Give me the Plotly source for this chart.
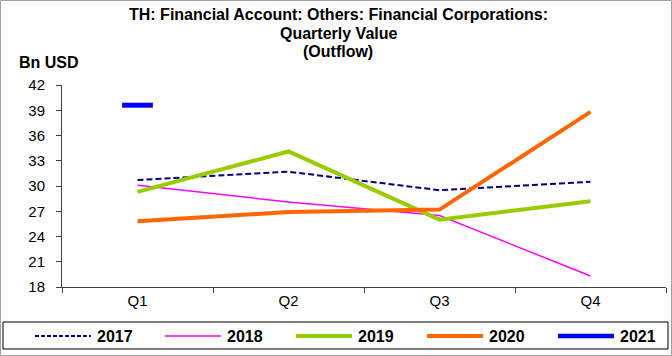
import plotly.graph_objects as go

# Quarterly outflow values, Bn USD
quarters = ["Q1", "Q2", "Q3", "Q4"]
years = ["2017", "2018", "2019", "2020", "2021"]
v2017 = [30.7, 31.7, 29.5, 30.5]
v2018 = [30.1, 28.1, 26.5, 19.3]
v2019 = [29.3, 34.1, 26.0, 28.2]
v2020 = [25.8, 26.9, 27.2, 38.8]
v2021 = [39.6, None, None, None]

title_lines = [
    "TH: Financial Account: Others: Financial Corporations:",
    "Quarterly Value",
    "(Outflow)",
]

values = {"2017": v2017, "2018": v2018, "2019": v2019, "2020": v2020, "2021": v2021}
styles = {
    "2017": dict(color="#000080", width=2, dash="6px,3px"),
    "2018": dict(color="#FF00FF", width=1.5, dash="solid"),
    "2019": dict(color="#99CC00", width=4, dash="solid"),
    "2020": dict(color="#FF6600", width=4, dash="solid"),
    "2021": dict(color="#0000FF", width=5, dash="solid"),
}

W, H = 672, 356
L, R, T, B = 62, 6, 85, 69
pw, ph = W - L - R, H - T - B


def px(x):
    return (x - L) / pw


def py(y):
    return (H - B - y) / ph


fig = go.Figure()
for yr in years:
    st = styles[yr]
    vals = values[yr]
    n_pts = sum(v is not None for v in vals)
    if n_pts > 1:
        fig.add_trace(go.Scatter(
            x=quarters, y=vals, mode="lines", name=yr,
            line=dict(color=st["color"], width=st["width"], dash=st["dash"]),
            showlegend=False,
        ))
    else:
        # a single observation is shown as a short horizontal dash
        fig.add_trace(go.Scatter(
            x=quarters, y=vals, mode="markers", name=yr,
            marker=dict(symbol="line-ew", size=22,
                        line=dict(color=st["color"], width=st["width"])),
            showlegend=False,
        ))

shapes = []
annotations = []

# outer frame
shapes.append(dict(type="rect", xref="paper", yref="paper",
                   x0=px(0.5), x1=px(W - 0.5), y0=py(H - 0.5), y1=py(0.5),
                   line=dict(color="#A0A0A0", width=1), layer="below"))

# legend box and entries
shapes.append(dict(type="rect", xref="paper", yref="paper",
                   x0=px(3), x1=px(668), y0=py(349), y1=py(322),
                   line=dict(color="#000000", width=1)))
leg_y = 336
starts = [35, 165, 296, 427, 558]
for yr, x0 in zip(years, starts):
    st = styles[yr]
    shapes.append(dict(type="line", xref="paper", yref="paper",
                       x0=px(x0), x1=px(x0 + 56), y0=py(leg_y), y1=py(leg_y),
                       line=dict(color=st["color"], width=min(st["width"], 4.5),
                                 dash="4px,2px" if st["dash"] != "solid" else "solid")))
    annotations.append(dict(xref="paper", yref="paper", x=px(x0 + 60), y=py(leg_y),
                            text="<b>%s</b>" % yr, showarrow=False,
                            xanchor="left", yanchor="middle",
                            font=dict(size=16, color="#000000")))

# unit label
annotations.append(dict(xref="paper", yref="paper", x=px(17), y=py(63),
                        text="<b>Bn USD</b>", showarrow=False,
                        xanchor="left", yanchor="middle",
                        font=dict(size=16, color="#000000")))

# chart title, one line at a time
for i, line in enumerate(title_lines):
    annotations.append(dict(
        xref="paper", yref="paper", x=px(338), y=py(15 + 18 * i),
        text="<b>%s</b>" % line,
        showarrow=False, xanchor="center", yanchor="middle",
        font=dict(size=16, color="#000000"),
    ))

fig.update_layout(
    width=W, height=H,
    margin=dict(l=L, r=R, t=T, b=B),
    paper_bgcolor="white", plot_bgcolor="white",
    font=dict(family="Liberation Sans, Arial, sans-serif", size=15, color="#000000"),
    shapes=shapes,
    annotations=annotations,
    showlegend=False,
)
fig.update_xaxes(
    type="category", range=[-0.5, 3.5],
    showline=True, linecolor="#404040", linewidth=1,
    ticks="outside", ticklen=5, tickcolor="#404040", tickson="boundaries",
    showgrid=False, zeroline=False, tickfont=dict(size=15),
)
fig.update_yaxes(
    range=[18, 42], dtick=3, tick0=18,
    showline=True, linecolor="#404040", linewidth=1,
    ticks="outside", ticklen=5, tickcolor="#404040",
    showgrid=False, zeroline=False, tickfont=dict(size=15),
    ticklabelstandoff=8,
)

fig.write_html("out.html")
